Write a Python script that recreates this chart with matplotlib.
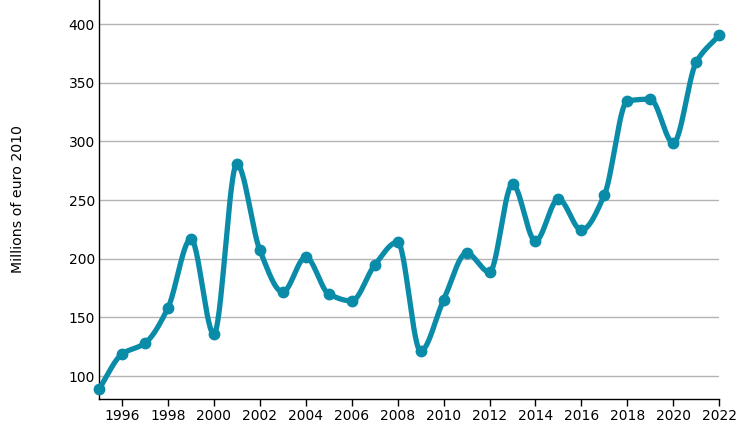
import numpy as np
import matplotlib
matplotlib.use('Agg')
import matplotlib.pyplot as plt

years = list(range(1995, 2023))
values = [88.9, 118.7, 128.0, 158.0, 216.8, 135.8, 280.7, 207.4, 171.6, 201.4,
          170.0, 164.0, 194.6, 214.2, 121.3, 164.8, 204.8, 188.6, 263.6, 215.0,
          250.9, 224.4, 254.3, 334.5, 336.0, 298.6, 367.6, 390.6]
ytick_vals = [100, 150, 200, 250, 300, 350, 400]
xtick_vals = list(range(1996, 2023, 2))

LINE_COLOR = '#0a8ca8'


def monotone_curve(x, y, n=30):
    """Monotone cubic (Fritsch-Carlson) smoothing for drawing the line."""
    x = np.asarray(x, float)
    y = np.asarray(y, float)
    h = np.diff(x)
    d = np.diff(y) / h
    m = np.zeros_like(y)
    m[0], m[-1] = d[0], d[-1]
    for i in range(1, len(y) - 1):
        if d[i - 1] * d[i] <= 0:
            m[i] = 0
        else:
            w1 = 2 * h[i] + h[i - 1]
            w2 = h[i] + 2 * h[i - 1]
            m[i] = (w1 + w2) / (w1 / d[i - 1] + w2 / d[i])
    xs, ys = [], []
    for i in range(len(x) - 1):
        t = np.linspace(0, 1, n, endpoint=False)
        h00 = 2 * t**3 - 3 * t**2 + 1
        h10 = t**3 - 2 * t**2 + t
        h01 = -2 * t**3 + 3 * t**2
        h11 = t**3 - t**2
        xs.append(x[i] + t * h[i])
        ys.append(h00 * y[i] + h10 * h[i] * m[i] + h01 * y[i + 1] + h11 * h[i] * m[i + 1])
    xs.append([x[-1]])
    ys.append([y[-1]])
    return np.concatenate(xs), np.concatenate(ys)


fig = plt.figure(figsize=(7.5, 4.3), dpi=100)
ax = fig.add_axes([0.132, 0.072, 0.827, 0.928])

sx, sy = monotone_curve(years, values)
ax.plot(sx, sy, color=LINE_COLOR, lw=3.8, solid_capstyle='round', zorder=3, clip_on=False)
ax.plot(years, values, 'o', color=LINE_COLOR, ms=7.5, zorder=4, clip_on=False)

ax.set_xlim(1995, 2022)
ax.set_ylim(80.4, 420.5)
ax.set_yticks(ytick_vals)
ax.set_xticks(xtick_vals)
ax.grid(axis='y', color='#b3b3b3', lw=1)
ax.set_axisbelow(True)

for side in ('top', 'right'):
    ax.spines[side].set_visible(False)
for side in ('left', 'bottom'):
    ax.spines[side].set_color('black')
    ax.spines[side].set_linewidth(1)

ax.tick_params(axis='y', length=0, pad=3, labelsize=10)
ax.tick_params(axis='x', length=5, width=1, pad=2, labelsize=10)
ax.set_ylabel('Millions of euro 2010', fontsize=10.2, labelpad=31)

fig.savefig('out.png', dpi=100)
plt.close(fig)
